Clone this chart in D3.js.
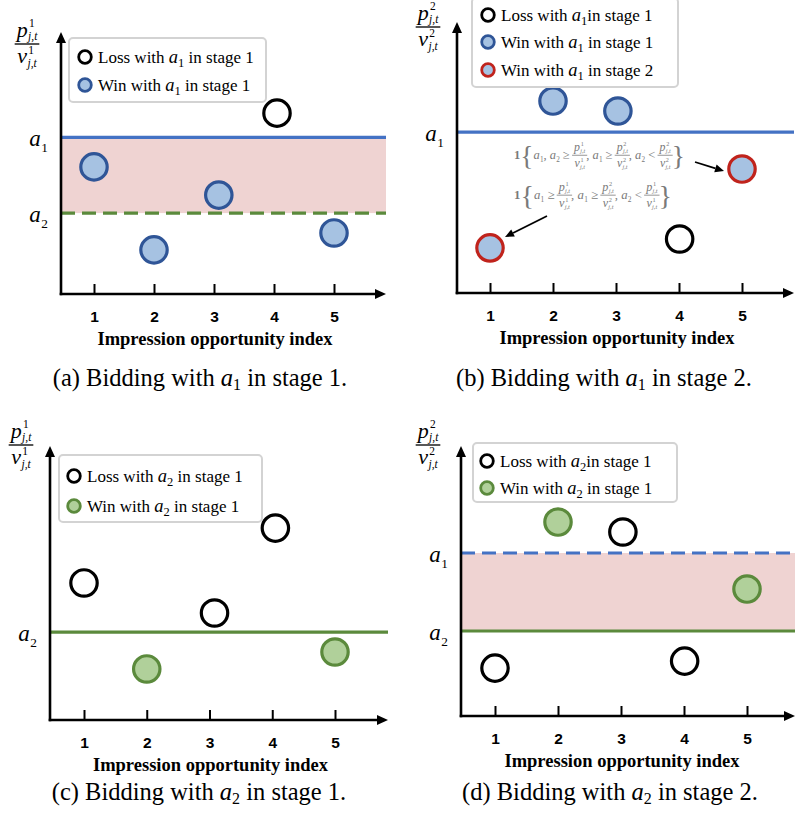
<!DOCTYPE html>
<html>
<head>
<meta charset="utf-8">
<script src="https://cdn.jsdelivr.net/npm/d3@7"></script>
<style>
  body { margin: 0; background: #fff; }
  svg { display: block; }
</style>
</head>
<body>
<svg id="fig" width="795" height="815"></svg>
<script>
// ---- data ----------------------------------------------------------
const indexTicks = [1, 2, 3, 4, 5];

// horizontal position of each impression opportunity (slightly jittered)
const xStage1 = [1, 2, 3.08, 4.05, 5];
const xStage2 = [1, 2, 3.03, 4.01, 5];

// price-to-value ratio of each impression, on a 0..10 scale
const ratioA = [4.87, 1.69, 3.79, 6.93, 2.34];
const ratioB = [1.67, 7.11, 6.74, 2.00, 4.59];
const ratioC = [5.02, 1.87, 3.92, 7.03, 2.49];
const ratioD = [1.78, 7.21, 6.84, 2.04, 4.72];

// outcome of each impression
const outcomeA = ["win1", "win1", "win1", "loss", "win1"];
const outcomeB = ["win2", "win1", "win1", "loss", "win2"];
const outcomeC = ["loss", "winG", "loss", "loss", "winG"];
const outcomeD = ["loss", "winG", "loss", "loss", "winG"];

// bid-ratio thresholds drawn in each panel
const levelA = [6.0, 3.1];   // a1, a2
const levelB = [5.96];       // a1
const levelC = [3.22];       // a2
const levelD = [6.06, 3.16]; // a1, a2

const legendA = [["loss", "Loss with ", "1", " in stage 1"], ["win1", "Win with ", "1", " in stage 1"]];
const legendB = [["loss", "Loss with ", "1", "in stage 1"], ["win1", "Win with ", "1", " in stage 1"], ["win2", "Win with ", "1", " in stage 2"]];
const legendC = [["loss", "Loss with ", "2", " in stage 1"], ["winG", "Win with ", "2", " in stage 1"]];
const legendD = [["loss", "Loss with ", "2", "in stage 1"], ["winG", "Win with ", "2", " in stage 1"]];

const captions = [["(a) Bidding with ", "1", " in stage 1."], ["(b) Bidding with ", "1", " in stage 2."],
                  ["(c) Bidding with ", "2", " in stage 1."], ["(d) Bidding with ", "2", " in stage 2."]];

// ---- styles --------------------------------------------------------
const SERIF = "'Liberation Serif','Times New Roman',serif";
const SANS = "'Liberation Sans',Arial,sans-serif";
const MATH = "'Liberation Serif','Times New Roman',serif";
const BLUE = "#4472c4", GREEN = "#5b8a3c", PINK = "#efd3d2";
const markerStyle = {
  loss: { fill: "#ffffff", stroke: "#000000" },
  win1: { fill: "#a6c2e2", stroke: "#2f5597" },
  win2: { fill: "#a6c2e2", stroke: "#c0231c" },
  winG: { fill: "#b0d09a", stroke: "#5b8a3c" }
};

const svg = d3.select("#fig");

// italic variable with optional stacked superscript / subscript
function mathVar(parent, x, y, base, sup, sub, fs, color, opt) {
  const o = Object.assign({ ss: 0.58, supUp: 0.47, subDrop: 0.26 }, opt || {});
  const g = parent.append("g").attr("transform", `translate(${x},${y})`).attr("fill", color || "#000");
  const b = g.append("text").attr("font-family", MATH).attr("font-style", "italic")
    .attr("font-size", fs).text(base);
  const bw = b.node().getComputedTextLength();
  const ss = fs * o.ss;
  let w = bw;
  if (sup) {
    const t = g.append("text").attr("x", bw + fs * 0.06).attr("y", -fs * o.supUp)
      .attr("font-family", MATH).attr("font-size", ss).text(sup);
    w = Math.max(w, bw + fs * 0.06 + t.node().getComputedTextLength());
  }
  if (sub) {
    const t = g.append("text").attr("x", bw + fs * 0.02).attr("y", fs * o.subDrop)
      .attr("font-family", MATH).attr("font-size", ss)
      .attr("font-style", /[a-z]/.test(sub) ? "italic" : "normal").text(sub);
    w = Math.max(w, bw + fs * 0.02 + t.node().getComputedTextLength());
  }
  return { g, w };
}

// stacked fraction p/v centred on cx with its bar at barY
function fraction(parent, cx, barY, num, den, fs, color, gapUp, gapDown) {
  const opt = { ss: 0.52, supUp: 0.43, subDrop: 0.16 };
  const n = mathVar(parent, 0, 0, num[0], num[1], num[2], fs, color, opt);
  const d = mathVar(parent, 0, 0, den[0], den[1], den[2], fs, color, opt);
  const W = Math.max(n.w, d.w);
  n.g.attr("transform", `translate(${cx - n.w / 2},${barY - gapUp})`);
  d.g.attr("transform", `translate(${cx - d.w / 2},${barY + gapDown})`);
  parent.append("line").attr("x1", cx - W / 2 - 2).attr("x2", cx + W / 2 + 2)
    .attr("y1", barY).attr("y2", barY).attr("stroke", color || "#000").attr("stroke-width", Math.max(0.8, fs * 0.06));
  return W;
}

// inline math expression made of tokens
function formula(parent, x, y, tokens, fs, color) {
  let cx = x;
  for (const tk of tokens) {
    if (tk.t !== undefined) {
      const el = parent.append("text").attr("x", cx).attr("y", y).attr("font-family", MATH)
        .attr("font-size", fs).attr("fill", color).attr("font-weight", tk.bold ? "bold" : null)
        .attr("xml:space", "preserve").style("white-space", "pre").text(tk.t);
      cx += el.node().getComputedTextLength();
    } else if (tk.brace) {
      const el = parent.append("text").attr("x", cx).attr("y", y + fs * 0.5).attr("font-family", MATH)
        .attr("font-size", fs * 2.2).attr("fill", color).text(tk.brace);
      cx += el.node().getComputedTextLength();
    } else if (tk.v) {
      const m = mathVar(parent, cx, y, tk.v, null, tk.sub, fs, color);
      cx += m.w;
    } else if (tk.frac) {
      const tmp = parent.append("g");
      const W = fraction(tmp, 0, 0, ["p", tk.frac[0], "j,t"], ["v", tk.frac[1], "j,t"], fs * 0.95, color, fs * 0.32, fs * 0.95);
      tmp.attr("transform", `translate(${cx + W / 2 + 1},${y - fs * 0.3})`);
      cx += W + 2;
    }
  }
  return cx - x;
}

// ---- panels --------------------------------------------------------
const panels = [
  { left: 61, bottom: 294, top: 33, right: 386, x1: 94, x5: 334, xs: xStage1, ys: ratioA, out: outcomeA,
    lines: [{ v: levelA[0], c: BLUE, dash: null, lab: "1" }, { v: levelA[1], c: GREEN, dash: "14,7", lab: "2" }],
    band: [levelA[1], levelA[0]], ylab: "1", fracX: 27, fracY: 44,
    legend: legendA, box: [69, 38, 197, 64], lx: 85, ly: [57, 85] },
  { left: 457, bottom: 293, top: 23, right: 794, x1: 490, x5: 742, xs: xStage2, ys: ratioB, out: outcomeB,
    lines: [{ v: levelB[0], c: BLUE, dash: null, lab: "1" }],
    band: null, ylab: "2", fracX: 428, fracY: 27,
    legend: legendB, box: [472, -2, 206, 89], lx: 488, ly: [15, 42, 70] },
  { left: 50, bottom: 720, top: 447, right: 388, x1: 84, x5: 335, xs: xStage1, ys: ratioC, out: outcomeC,
    lines: [{ v: levelC[0], c: GREEN, dash: null, lab: "2" }],
    band: null, ylab: "1", fracX: 21, fracY: 445,
    legend: legendC, box: [59, 455, 203, 67], lx: 74, ly: [476, 506] },
  { left: 461, bottom: 716, top: 447, right: 795, x1: 495, x5: 747, xs: xStage2, ys: ratioD, out: outcomeD,
    lines: [{ v: levelD[0], c: BLUE, dash: "14,7", lab: "1" }, { v: levelD[1], c: GREEN, dash: null, lab: "2" }],
    band: [levelD[1], levelD[0]], ylab: "2", fracX: 428, fracY: 445,
    legend: legendD, box: [473, 443, 204, 59], lx: 487, ly: [461, 488] }
];

const captionX = [200, 604, 199, 610];
const captionY = [386, 386, 800, 800];

panels.forEach((p, i) => {
  const g = svg.append("g");
  const x = d3.scaleLinear().domain([1, 5]).range([p.x1, p.x5]);
  const y = d3.scaleLinear().domain([0, 10]).range([p.bottom, p.top]);

  // shaded band between the two thresholds
  if (p.band) {
    g.append("rect").attr("x", p.left).attr("width", p.right - p.left)
      .attr("y", y(p.band[1])).attr("height", y(p.band[0]) - y(p.band[1])).attr("fill", PINK);
  }

  // threshold lines with a-labels
  p.lines.forEach(l => {
    g.append("line").attr("x1", p.left).attr("x2", p.right).attr("y1", y(l.v)).attr("y2", y(l.v))
      .attr("stroke", l.c).attr("stroke-width", 3.2).attr("stroke-dasharray", l.dash);
    const m = mathVar(g, 0, 0, "a", null, l.lab, 23, "#000");
    m.g.attr("transform", `translate(${p.left - 13 - m.w},${y(l.v) + 9})`);
  });

  // axes
  g.append("line").attr("x1", p.left).attr("x2", p.left).attr("y1", p.bottom + 1.2).attr("y2", p.top + 8)
    .attr("stroke", "#000").attr("stroke-width", 2.6);
  g.append("path").attr("d", `M${p.left - 5},${p.top + 10}L${p.left},${p.top - 1}L${p.left + 5},${p.top + 10}Z`).attr("fill", "#000");
  g.append("line").attr("x1", p.left - 1.3).attr("x2", p.right - 8).attr("y1", p.bottom).attr("y2", p.bottom)
    .attr("stroke", "#000").attr("stroke-width", 2.6);
  g.append("path").attr("d", `M${p.right - 11},${p.bottom - 5}L${p.right},${p.bottom}L${p.right - 11},${p.bottom + 5}Z`).attr("fill", "#000");

  const ax = g.append("g").attr("transform", `translate(0,${p.bottom})`)
    .call(d3.axisBottom(x).tickValues(indexTicks).tickSize(-10).tickPadding(17).tickFormat(d3.format("d")));
  ax.select(".domain").remove();
  ax.selectAll(".tick line").attr("stroke", "#000").attr("stroke-width", 2);
  ax.selectAll(".tick text").attr("font-family", SANS).attr("font-weight", "bold")
    .attr("font-size", 15.5).attr("fill", "#000");

  g.append("text").attr("x", (p.x1 + p.x5) / 2 + 1).attr("y", p.bottom + 51)
    .attr("text-anchor", "middle").attr("font-family", SERIF).attr("font-weight", "bold")
    .attr("font-size", 18.5).text("Impression opportunity index");

  // y-axis label p/v
  fraction(g, p.fracX, p.fracY, ["p", p.ylab, "j,t"], ["v", p.ylab, "j,t"], 22, "#000", 7.5, 19);

  // points
  g.selectAll("circle.pt").data(p.ys).join("circle").attr("class", "pt")
    .attr("cx", (d, k) => x(p.xs[k])).attr("cy", d => y(d)).attr("r", 13.2)
    .attr("fill", (d, k) => markerStyle[p.out[k]].fill)
    .attr("stroke", (d, k) => markerStyle[p.out[k]].stroke).attr("stroke-width", 3.2);

  // legend
  const b = p.box;
  g.append("rect").attr("x", b[0]).attr("y", b[1]).attr("width", b[2]).attr("height", b[3]).attr("rx", 4)
    .attr("fill", "#fff").attr("stroke", "#d3d3d3").attr("stroke-width", 2);
  p.legend.forEach((e, k) => {
    const cy = p.ly[k];
    g.append("circle").attr("cx", p.lx).attr("cy", cy).attr("r", 6.3)
      .attr("fill", markerStyle[e[0]].fill).attr("stroke", markerStyle[e[0]].stroke).attr("stroke-width", 2.8);
    const t = g.append("text").attr("x", p.lx + 13).attr("y", cy + 6).attr("font-family", SERIF)
      .attr("font-size", 17).attr("xml:space", "preserve").style("white-space", "pre");
    t.append("tspan").text(e[1]);
    t.append("tspan").attr("font-style", "italic").attr("font-size", 18.5).text("a");
    t.append("tspan").attr("dy", 4).attr("font-size", 12.5).text(e[2]);
    t.append("tspan").attr("dy", -4).text(e[3]);
  });

  // caption
  const c = captions[i];
  const ct = g.append("text").attr("x", captionX[i]).attr("y", captionY[i]).attr("text-anchor", "middle")
    .attr("font-family", SERIF).attr("font-size", 24.5).attr("xml:space", "preserve").style("white-space", "pre");
  ct.append("tspan").text(c[0]);
  ct.append("tspan").attr("font-style", "italic").text("a");
  ct.append("tspan").attr("dy", 4).attr("font-size", 16).text(c[1]);
  ct.append("tspan").attr("dy", -4).text(c[2]);
});

// ---- indicator annotations in panel (b) ----------------------------
const GRAY = "#7a7a7a";
const ann = svg.append("g");
const f1 = [{ t: "1", bold: true }, { brace: "{" }, { v: "a", sub: "1" }, { t: ", " }, { v: "a", sub: "2" }, { t: " \u2265 " },
  { frac: ["1", "1"] }, { t: ", " }, { v: "a", sub: "1" }, { t: " \u2265 " }, { frac: ["2", "2"] }, { t: ", " },
  { v: "a", sub: "2" }, { t: " < " }, { frac: ["2", "2"] }, { brace: "}" }];
const f2 = [{ t: "1", bold: true }, { brace: "{" }, { v: "a", sub: "1" }, { t: " \u2265 " },
  { frac: ["1", "1"] }, { t: ", " }, { v: "a", sub: "1" }, { t: " \u2265 " }, { frac: ["2", "2"] }, { t: ", " },
  { v: "a", sub: "2" }, { t: " < " }, { frac: ["1", "1"] }, { brace: "}" }];
formula(ann, 514, 159, f1, 12.5, GRAY);
formula(ann, 514, 199, f2, 12.8, GRAY);

function arrow(x0, y0, x1, y1) {
  const a = Math.atan2(y1 - y0, x1 - x0), L = 9, H = 4;
  const bx = x1 - L * Math.cos(a), by = y1 - L * Math.sin(a);
  ann.append("line").attr("x1", x0).attr("y1", y0).attr("x2", bx).attr("y2", by)
    .attr("stroke", "#000").attr("stroke-width", 1.8);
  ann.append("path").attr("d",
    `M${x1},${y1}L${bx + H * Math.sin(a)},${by - H * Math.cos(a)}L${bx - H * Math.sin(a)},${by + H * Math.cos(a)}Z`)
    .attr("fill", "#000");
}
arrow(695, 162, 724, 171);
arrow(547, 216, 505, 237);
</script>
</body>
</html>
